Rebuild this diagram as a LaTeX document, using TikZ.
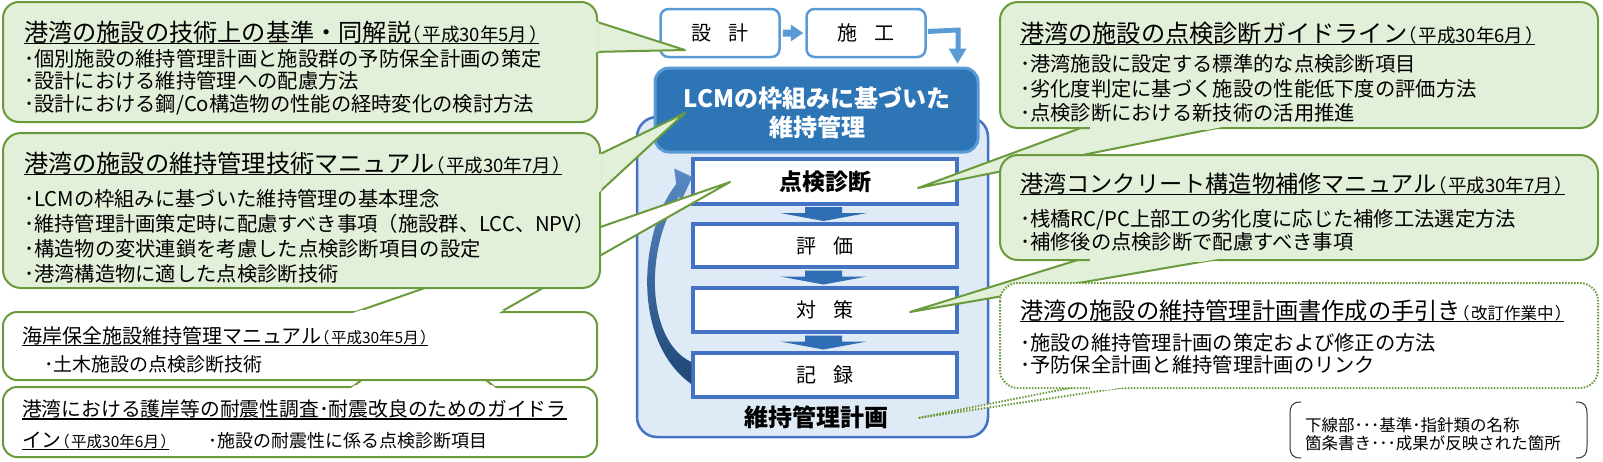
\documentclass[tikz,border=0pt]{standalone}
\usepackage{fontspec}
\setmainfont{Noto Sans CJK JP}
\newfontfamily\pfont[RawFeature=+palt]{Noto Sans CJK JP}
\usetikzlibrary{calc}
\definecolor{gline}{HTML}{6A9A3C}
\definecolor{gfill}{HTML}{E2EFD9}
\definecolor{lblue}{HTML}{5B9BD5}
\definecolor{dblue}{HTML}{2E75B6}
\definecolor{cblue}{HTML}{4472C4}
\definecolor{cfill}{HTML}{DEEBF7}
\definecolor{ablue}{HTML}{2F6DB5}
\newcommand{\fsz}[1]{\fontsize{#1}{#1}\selectfont}
% callout: #1 style, #2 rect path, #3 radius, #4 wedge path, #5 clip region over the seam
\newcommand{\wbox}[5]{%
  \filldraw[#1] #4 -- cycle;
  \filldraw[#1, rounded corners=#3] #2;
  \begin{scope}\clip #5; \fill[#1, draw=none] #4 -- cycle; \end{scope}}
% bracketed date: #1 size, #2 text
\newcommand{\pdate}[2]{{\pfont\fsz{#1}（\kern0.12em #2\kern0.12em）}}
% underlined title: #1 name, #2 position, #3 size, #4 text, #5 date size, #6 date
\newcommand{\utitle}[6]{%
  \node[txt] (#1) at (#2) {\fsz{#3}#4\pdate{#5}{#6}};
  \draw[uline] ([yshift=-2.5pt]#1.base west) -- ([yshift=-2.5pt]#1.base east);}
\newcommand{\bul}[4]{\node[txt] (#1) at (#2) {\fsz{#3}#4};}
% block arrow between two step boxes
\newcommand{\barrow}[3]{%
  \coordinate (#3) at ($(#1.south)!0.5!(#2.north)+(-1.5,0)$);
  \fill[ablue] ($(#3)+(-18.5,-7)$) -- ($(#3)+(18.5,-7)$) -- ($(#3)+(18.5,-1)$) -- ($(#3)+(43.5,-1)$)
    -- ($(#3)+(0,7)$) -- ($(#3)+(-43.5,-1)$) -- ($(#3)+(-18.5,-1)$) -- cycle;}
\begin{document}
\begin{tikzpicture}[x=1pt,y=-1pt,
  gcall/.style={fill=gfill, draw=gline, line width=2pt, line join=round},
  wcall/.style={fill=white, draw=gline, line width=2pt, line join=round},
  dcall/.style={fill=white, draw=gline, line width=2pt, dash pattern=on 1.5pt off 1.5pt},
  txt/.style={anchor=base west, inner sep=0pt, outer sep=0pt},
  uline/.style={line width=1.1pt, black},
  topbox/.style={draw=lblue, line width=2.5pt, fill=white, rounded corners=8pt, minimum width=119pt, minimum height=48pt, inner sep=0pt, font=\fsz{20}},
  stepbox/.style={draw=cblue, line width=3.5pt, fill=white, minimum width=264pt, inner sep=0pt},
  lbl/.style={inner sep=0pt, outer sep=0pt}]
\useasboundingbox (0,0) rectangle (1603,461);
\fill[white] (0,0) rectangle (1603,461);

% ---------- centre ----------
\node[draw=cblue, line width=2.5pt, fill=cfill, rounded corners=20pt, minimum width=351pt, minimum height=320pt, inner sep=0pt] (plan) at (812.5,277) {};
\node[draw=lblue, line width=3pt, fill=dblue, rounded corners=14pt, minimum width=323pt, minimum height=84pt, inner sep=0pt] (lcm) at (816.5,110) {};
\node[lbl, white, align=center, font=\bfseries\fontsize{24}{29}\selectfont] (lcmt) at (817,112.5) {LCMの枠組みに基づいた\\維持管理};

\node[topbox] (des) at (720,33) {設\hspace{0.9em}計};
\node[topbox] (con) at (866,33) {施\hspace{0.85em}工};
\fill[lblue] ($(des.east)+(2,-3.5)$) -- ($(des.east)+(10,-3.5)$) -- ($(des.east)+(10,-8.5)$) -- ($(con.west)+(-2,0)$)
  -- ($(des.east)+(10,8.5)$) -- ($(des.east)+(10,3.5)$) -- ($(des.east)+(2,3.5)$) -- cycle;
\coordinate (ctip) at ($(lcm.north east)+(-22,-3)$);
\fill[lblue] ($(con.east)+(1,-4)$) -- ($(ctip)+(3,-36)$) -- ($(ctip)+(3,-15)$) -- ($(ctip)+(9,-15)$) -- (ctip)
  -- ($(ctip)+(-9,-15)$) -- ($(ctip)+(-2,-15)$) -- ($(ctip)+(-2,-31)$) -- ($(con.east)+(1,1)$) -- cycle;

\node[stepbox, minimum height=45pt] (s1) at (825,181.5) {\fsz{23}\bfseries 点検診断};
\node[stepbox, minimum height=43pt] (s2) at (825,245.5) {\fsz{20}評\hspace{0.85em}価};
\node[stepbox, minimum height=44pt] (s3) at (825,310) {\fsz{20}対\hspace{0.85em}策};
\node[stepbox, minimum height=44pt] (s4) at (825,375) {\fsz{20}記\hspace{0.85em}録};
\barrow{s1}{s2}{m1}
\barrow{s2}{s3}{m2}
\barrow{s3}{s4}{m3}
\node[lbl, font=\bfseries\fsz{24}] (plant) at (816,417.5) {維持管理計画};

% return arrow 記録 -> 点検診断
\shade[top color=ablue!80!white, bottom color=ablue!65!black]
  ($(s1.west)+(-17,-13)$) -- ($(s1.west)+(1,-4.5)$) -- ($(s1.west)+(-12,24)$) -- ($(s1.west)+(-12,14.5)$)
  .. controls (645,245) and (645,340) .. ($(s4.west)+(0,-13)$) -- ($(s4.west)+(0,9)$)
  .. controls (630,340) and (640,230) .. ($(s1.west)+(-15,2.5)$) -- cycle;

% ---------- left callouts ----------
\wbox{wcall}{(3,387) rectangle (597,457)}{14}{(350,389) -- (425,330) -- (497,389)}{(340,385.5) rectangle (510,388.5)}
\node[txt] (b4t) at (22,416.5) {\fsz{19.8}港湾における護岸等の耐震性調査･耐震改良のためのガイドラ};
\draw[uline] ([yshift=-2.5pt]b4t.base west) -- ([yshift=-2.5pt]b4t.base east);
\utitle{b4u}{22,447}{19.8}{イン}{15.5}{平成30年6月}
\bul{b4b}{208,447}{18}{･施設の耐震性に係る点検診断項目}

\wbox{wcall}{(3,312) rectangle (597,380)}{14}{(350,314) -- (730,182) -- (497,314)}{(340,310.5) rectangle (510,313.5)}
\utitle{b3t}{22,343}{20}{海岸保全施設維持管理マニュアル}{15.5}{平成30年5月}
\bul{b3b}{44,371}{19}{･土木施設の点検診断技術}

\wbox{gcall}{(3,133) rectangle (600,288)}{18}{(594,157) -- (685,113) -- (594,197)}{(598.5,150) rectangle (601.5,205)}
\utitle{c2t}{24,172}{24.2}{港湾の施設の維持管理技術マニュアル}{18.5}{平成30年7月}
\bul{c2a}{24,206}{20.3}{･LCMの枠組みに基づいた維持管理の基本理念}
\bul{c2b}{24,231}{20.3}{･維持管理計画策定時に配慮すべき事項（施設群、LCC、NPV）}
\bul{c2c}{24,256}{20.3}{･構造物の変状連鎖を考慮した点検診断項目の設定}
\bul{c2d}{24,281}{20.3}{･港湾構造物に適した点検診断技術}

\wbox{gcall}{(3,2) rectangle (597,122)}{16}{(591,20) -- (685,50) -- (591,52)}{(595.5,15) rectangle (598.5,57)}
\utitle{c1t}{24,41}{24.2}{港湾の施設の技術上の基準・同解説}{18.5}{平成30年5月}
\bul{c1a}{24,66}{20.3}{･個別施設の維持管理計画と施設群の予防保全計画の策定}
\bul{c1b}{24,88.5}{20.3}{･設計における維持管理への配慮方法}
\bul{c1c}{24,111}{20.3}{･設計における鋼/Co構造物の性能の経時変化の検討方法}

% ---------- right callouts ----------
\wbox{gcall}{(1000,2) rectangle (1598,128)}{18}{(1097,122) -- (918,188) -- (1247,122)}{(1090,126.5) rectangle (1255,129.5)}
\utitle{r1t}{1020,42}{24.2}{港湾の施設の点検診断ガイドライン}{18.5}{平成30年6月}
\bul{r1a}{1020,71}{20.3}{･港湾施設に設定する標準的な点検診断項目}
\bul{r1b}{1020,96}{20.3}{･劣化度判定に基づく施設の性能低下度の評価方法}
\bul{r1c}{1020,120}{20.3}{･点検診断における新技術の活用推進}

\wbox{gcall}{(1000,155) rectangle (1598,260)}{18}{(1097,254) -- (910,312) -- (1247,254)}{(1090,258.5) rectangle (1255,261.5)}
\utitle{r2t}{1020,192}{23.2}{港湾コンクリート構造物補修マニュアル}{18.5}{平成30年7月}
\bul{r2a}{1020,226}{20.3}{･桟橋RC/PC上部工の劣化度に応じた補修工法選定方法}
\bul{r2b}{1020,249}{20.3}{･補修後の点検診断で配慮すべき事項}

\wbox{dcall}{(1000,283) rectangle (1598,388)}{18}{(1100,382) -- (918,418) -- (1160,382)}{(1090,386.5) rectangle (1170,389.5)}
\utitle{r3t}{1020,319}{23.2}{港湾の施設の維持管理計画書作成の手引き}{16.5}{改訂作業中}
\bul{r3a}{1020,350}{20.3}{･施設の維持管理計画の策定および修正の方法}
\bul{r3b}{1020,372}{20.3}{･予防保全計画と維持管理計画のリンク}

% ---------- legend ----------
\draw[line width=1pt, black!80] (1301,402) .. controls (1292,402) and (1290,406) .. (1290,414) -- (1290,446)
  .. controls (1290,454) and (1292,458) .. (1301,458);
\draw[line width=1pt, black!80] (1576,402) .. controls (1585,402) and (1587,406) .. (1587,414) -- (1587,446)
  .. controls (1587,454) and (1585,458) .. (1576,458);
\bul{lg1}{1305,431}{16.5}{下線部･･･基準･指針類の名称}
\bul{lg2}{1305,449.5}{16.5}{箇条書き･･･成果が反映された箇所}
\end{tikzpicture}
\end{document}
